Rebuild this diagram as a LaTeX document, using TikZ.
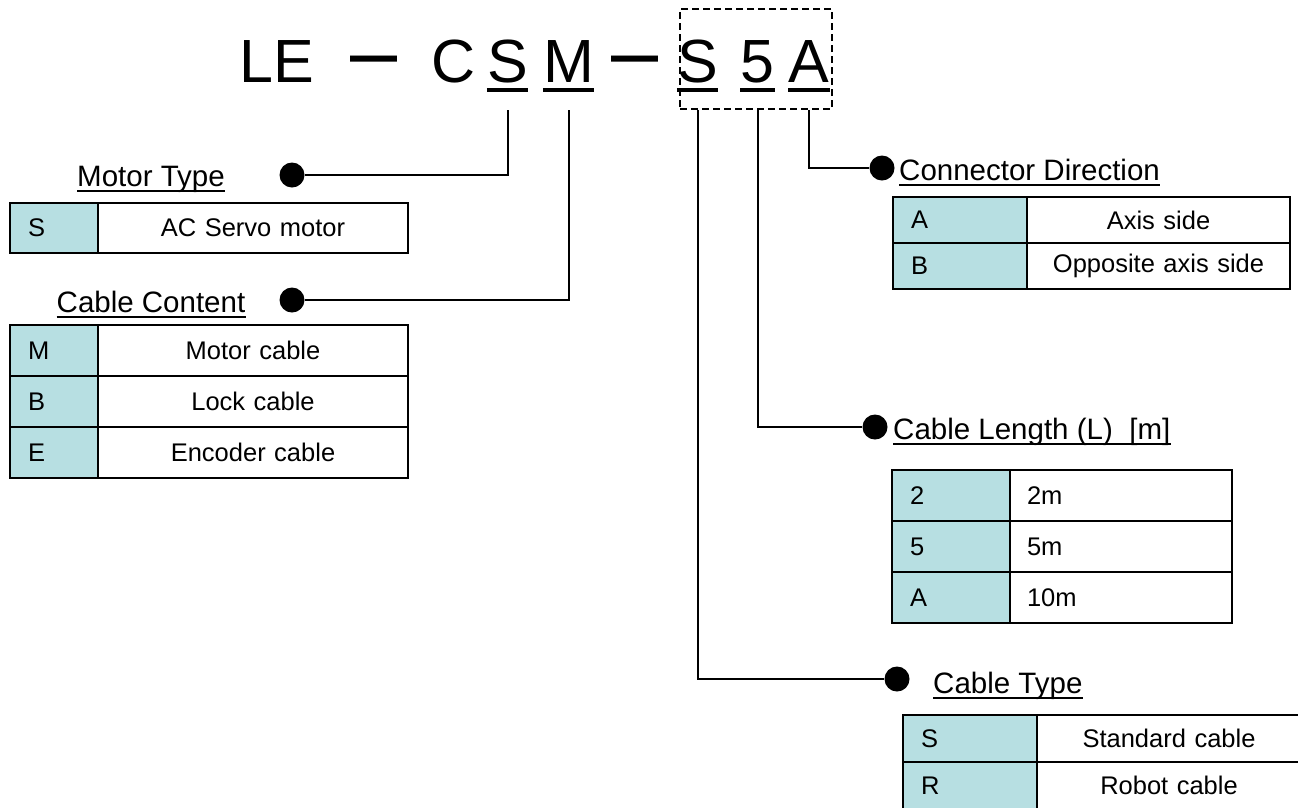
\documentclass[tikz,border=0pt]{standalone}
\usepackage{fontspec}
\setmainfont{Liberation Sans}
\newfontfamily\codefont{Liberation Sans}
\usetikzlibrary{positioning}
\definecolor{keycyan}{RGB}{183,223,226}

\begin{document}
\begin{tikzpicture}[
    x=1pt, y=-1pt,
    code/.style={font=\codefont\fontsize{61}{70}\selectfont, inner sep=0pt, anchor=base},
    dashchar/.style={font=\codefont\fontsize{47}{50}\selectfont\bfseries, inner sep=0pt, anchor=north, yscale=1.3, transform shape},
    label/.style={font=\fontsize{29.5}{34}\selectfont, inner sep=0pt},
    keycell/.style 2 args={draw, fill=keycyan, line width=2.4pt, outer sep=0pt, inner xsep=18pt, inner ysep=0pt, text width=#1, minimum height=#2, align=left, font=\fontsize{25.5}{30}\selectfont},
    valcell/.style 2 args={draw, fill=white, line width=2.4pt, outer sep=0pt, inner xsep=0pt, inner ysep=0pt, text width=#1, minimum height=#2, align=center, font=\fontsize{25.5}{30}\selectfont},
    lencell/.style 2 args={draw, fill=white, line width=2.4pt, outer sep=0pt, inner xsep=17pt, inner ysep=0pt, text width=#1, minimum height=#2, align=left, font=\fontsize{25.5}{30}\selectfont},
    dot/.style={circle, fill=black, inner sep=0pt, minimum size=25pt},
    lead/.style={line width=2pt},
    uline/.style={line width=4pt},
    lline/.style={line width=2pt},
    frame/.style={draw, line width=1.6pt, dash pattern=on 7pt off 4pt, minimum width=152pt, minimum height=100pt, inner sep=0pt}
]
\useasboundingbox (0,0) rectangle (1298,807);
\clip (0,0) rectangle (1298,807);

% Part number
\node[code] (cLE) at (277,82) {LE};
\node[dashchar] (d1) at (373.5,56) {—};
\node[code] (cC) at (453.5,82) {C};
\node[code] (cS) at (507.5,82) {S};
\node[code] (cM) at (568.5,82) {M};
\node[dashchar] (d2) at (635,56) {—};
\node[code] (cT) at (697.5,82) {S};
\node[code] (cL) at (757.5,82) {5};
\node[code] (cA) at (809,82) {A};
\node[frame] (box) at (756,59) {};
\foreach \n in {cS,cM,cT,cL,cA}
    \draw[uline] ([yshift=-8pt]\n.base west) -- ([yshift=-8pt]\n.base east);

% Dots and headings
\node[dot] (dotMotor) at (292,175) {};
\node[label, anchor=base] (lMotor) at (151,186) {Motor Type};
\node[dot] (dotContent) at (292,300) {};
\node[label, anchor=base] (lContent) at (151,312) {Cable Content};
\node[dot] (dotDir) at (882,168) {};
\node[label, anchor=base west] (lDir) at (899,180) {Connector Direction};
\node[dot] (dotLength) at (875,427) {};
\node[label, anchor=base west] (lLength) at (893,439) {Cable Length (L)~~[m]};
\node[dot] (dotType) at (897,679) {};
\node[label, anchor=base west] (lType) at (933,693) {Cable Type};
\foreach \n in {lMotor,lContent,lDir,lLength,lType}
    \draw[lline] ([yshift=-5pt]\n.base west) -- ([yshift=-5pt]\n.base east);

% Leaders
\draw[lead] ([yshift=-28pt]cS.base) |- (dotMotor);
\draw[lead] ([yshift=-28pt]cM.base) |- (dotContent);
\draw[lead] (cA |- box.south) |- (dotDir);
\draw[lead] (cL |- box.south) |- (dotLength);
\draw[lead] (cT |- box.south) |- (dotType);

% Motor Type table
\node[keycell={52pt}{50pt}, anchor=north west] (mt1) at (10,203) {S};
\node[valcell={310pt}{50pt}, right=0pt of mt1] (mt1v) {AC Servo motor};

% Cable Content table
\node[keycell={52pt}{51pt}, anchor=north west] (cc1) at (10,325) {M};
\node[valcell={310pt}{51pt}, right=0pt of cc1] (cc1v) {Motor cable};
\node[keycell={52pt}{51pt}, below=0pt of cc1] (cc2) {B};
\node[valcell={310pt}{51pt}, right=0pt of cc2] (cc2v) {Lock cable};
\node[keycell={52pt}{51pt}, below=0pt of cc2] (cc3) {E};
\node[valcell={310pt}{51pt}, right=0pt of cc3] (cc3v) {Encoder cable};

% Connector Direction table
\node[keycell={98pt}{46pt}, anchor=north west] (cd1) at (893,197) {A};
\node[valcell={263pt}{46pt}, right=0pt of cd1] (cd1v) {Axis side};
\node[keycell={98pt}{46pt}, below=0pt of cd1] (cd2) {B};
\node[valcell={263pt}{46pt}, right=0pt of cd2] (cd2v) {Opposite axis side};

% Cable Length table
\node[keycell={82pt}{51pt}, anchor=north west] (cl1) at (892,470) {2};
\node[lencell={188pt}{51pt}, right=0pt of cl1] (cl1v) {2m};
\node[keycell={82pt}{51pt}, below=0pt of cl1] (cl2) {5};
\node[lencell={188pt}{51pt}, right=0pt of cl2] (cl2v) {5m};
\node[keycell={82pt}{51pt}, below=0pt of cl2] (cl3) {A};
\node[lencell={188pt}{51pt}, right=0pt of cl3] (cl3v) {10m};

% Cable Type table
\node[keycell={98pt}{47pt}, anchor=north west] (ct1) at (903,715) {S};
\node[valcell={264pt}{47pt}, right=0pt of ct1] (ct1v) {Standard cable};
\node[keycell={98pt}{47pt}, below=0pt of ct1] (ct2) {R};
\node[valcell={264pt}{47pt}, right=0pt of ct2] (ct2v) {Robot cable};

\end{tikzpicture}
\end{document}
